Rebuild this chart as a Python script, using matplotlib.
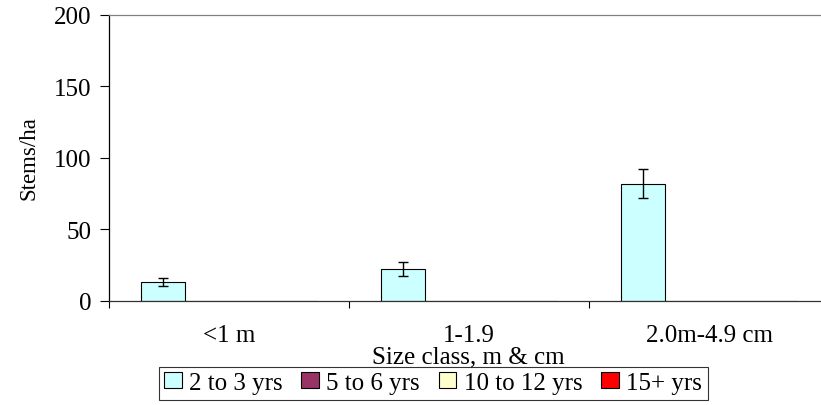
import matplotlib
matplotlib.use("Agg")
import matplotlib.pyplot as plt
from matplotlib.patches import Patch
import numpy as np

categories = ["<1 m", "1-1.9", "2.0m-4.9 cm"]
series_names = ["2 to 3 yrs", "5 to 6 yrs", "10 to 12 yrs", "15+ yrs"]
values = {
    "2 to 3 yrs": [13, 22, 82],
    "5 to 6 yrs": [0, 0, 0],
    "10 to 12 yrs": [0, 0, 0],
    "15+ yrs": [0, 0, 0],
}
errors = {
    "2 to 3 yrs": [3, 5, 10],
}
colors = ["#CCFFFF", "#993366", "#FFFFCC", "#FF0000"]

plt.rcParams["font.family"] = ["Liberation Serif", "DejaVu Serif"]
FS = 18

W, H = 821, 406
fig = plt.figure(figsize=(W / 100, H / 100), dpi=100)
# plot area in pixel coordinates (right edge runs past the figure)
left, right, top, bottom = 109, 829, 16, 301.7
ax = fig.add_axes([left / W, (H - bottom) / H, (right - left) / W, (bottom - top) / H])

x = np.arange(len(categories))
bw = 44 / 240
offsets = (np.arange(len(series_names)) - 1.5) * bw
for i, name in enumerate(series_names):
    vals = values[name]
    err = errors.get(name)
    ax.bar(x + offsets[i], vals, width=bw, color=colors[i],
           edgecolor="black", linewidth=0.8, zorder=2)
    if err is not None:
        ax.errorbar(x + offsets[i], vals, yerr=err, fmt="none",
                    ecolor="black", elinewidth=1.0, capsize=3.5,
                    capthick=1.0, zorder=3)

ax.set_xlim(-0.5, len(categories) - 0.5)
ax.set_ylim(0, 200)
ax.set_yticks([0, 50, 100, 150, 200])
ax.tick_params(axis="y", direction="out", length=6.5, width=0.8,
               labelsize=FS, pad=6)

ax.set_xticks(x)
ax.set_xticklabels(categories, fontsize=FS)
ax.tick_params(axis="x", which="major", length=0, pad=17)
ax.set_xticks(np.arange(len(categories) + 1) - 0.5, minor=True)
ax.tick_params(axis="x", which="minor", direction="out", length=5, width=0.8)

ax.spines["left"].set_color("black")
ax.spines["left"].set_linewidth(0.9)
ax.spines["bottom"].set_color("#333333")
ax.spines["bottom"].set_linewidth(0.9)
ax.spines["top"].set_color("#808080")
ax.spines["top"].set_linewidth(0.9)
ax.spines["right"].set_visible(False)

fig.text(468 / W, 1 - 357 / H, "Size class, m & cm", ha="center",
         va="center", fontsize=FS)
fig.text(29 / W, 1 - 158 / H, "Stems/ha", ha="center", va="center",
         rotation=90, fontsize=16.5)

handles = [Patch(facecolor=c, edgecolor="black", linewidth=0.8)
           for c in colors]
leg = fig.legend(handles, series_names, loc="center",
                 bbox_to_anchor=(433 / W, 1 - 384 / H), ncol=4,
                 fontsize=FS, frameon=True, fancybox=False,
                 handlelength=0.7, handleheight=0.6, handletextpad=0.3,
                 columnspacing=0.75, borderpad=0.22, borderaxespad=0)
leg.get_frame().set_edgecolor("black")
leg.get_frame().set_linewidth(0.8)

fig.savefig("out.png", dpi=100)
